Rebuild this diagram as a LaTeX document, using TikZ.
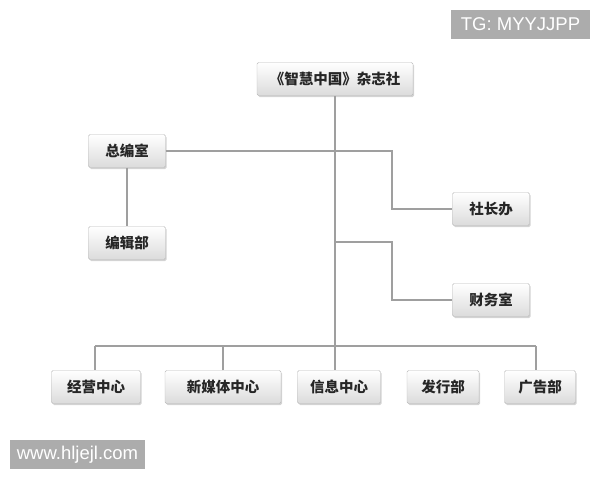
\documentclass[tikz,border=0pt]{standalone}
\usepackage{fontspec}
\setmainfont{Liberation Sans}
\newfontfamily\cjk{Noto Sans CJK SC}
\usetikzlibrary{shadows}

\begin{document}
\begin{tikzpicture}
  [x=1pt,y=-1pt,
   every node/.style={font=\cjk\bfseries\fontsize{14.5}{17}\selectfont,text=black!85},
   unit/.style={draw=gray!55,rounded corners=1.5pt,top color=white,bottom color=gray!28,
     minimum height=33pt,inner sep=0pt,
     drop shadow={shadow xshift=1.2pt,shadow yshift=-1.5pt,opacity=.35}},
   link/.style={draw=gray!75,line width=1.1pt},
   stamp/.style={fill=gray!65,text=white,font=\fontsize{18.5}{20}\selectfont,inner sep=0pt}]
  \useasboundingbox (0,0) rectangle (600,480);
  \node[unit,minimum width=156pt] (nmag) at (335,79) {《智慧中国》杂志社};
  \node[unit,minimum width=77pt] (nzb) at (127,151) {总编室};
  \node[unit,minimum width=77pt] (nbj) at (127,243) {编辑部};
  \node[unit,minimum width=77pt] (nsz) at (491,209) {社长办};
  \node[unit,minimum width=77pt] (ncw) at (491,300) {财务室};
  \node[unit,minimum width=89pt] (njy) at (96,387) {经营中心};
  \node[unit,minimum width=116pt] (nxm) at (223,387) {新媒体中心};
  \node[unit,minimum width=83pt] (nxx) at (339,387) {信息中心};
  \node[unit,minimum width=72pt] (nfx) at (443,387) {发行部};
  \node[unit,minimum width=71pt] (ngg) at (540,387) {广告部};

  \coordinate (ka) at (392,151);
  \coordinate (kb) at (335,242);
  \coordinate (kc) at (392,242);
  \coordinate (bl) at (95,346);
  \coordinate (br) at (536,346);

  \draw[link] (nmag.south) -- (nmag.south |- bl);
  \draw[link] (nzb.east) -- (ka) |- (nsz.west);
  \draw[link] (nzb.south) -- (nbj.north);
  \draw[link] (kb) -- (kc) |- (ncw.west);
  \draw[link] (bl) -- (br);
  \draw[link] (nxm.north) -- (nxm.north |- bl);
  \draw[link] (bl) -- (bl |- njy.north);
  \draw[link] (nmag.south |- bl) -- (nmag.south |- nxx.north);
  \draw[link] (br) -- (br |- ngg.north);

  \node[stamp,minimum width=139pt,minimum height=29pt] (ntg) at (520.5,24.5) {TG: MYYJJPP};
  \node[stamp,minimum width=135pt,minimum height=29pt] (nurl) at (77.5,454.5) {www.hljejl.com};
\end{tikzpicture}
\end{document}
